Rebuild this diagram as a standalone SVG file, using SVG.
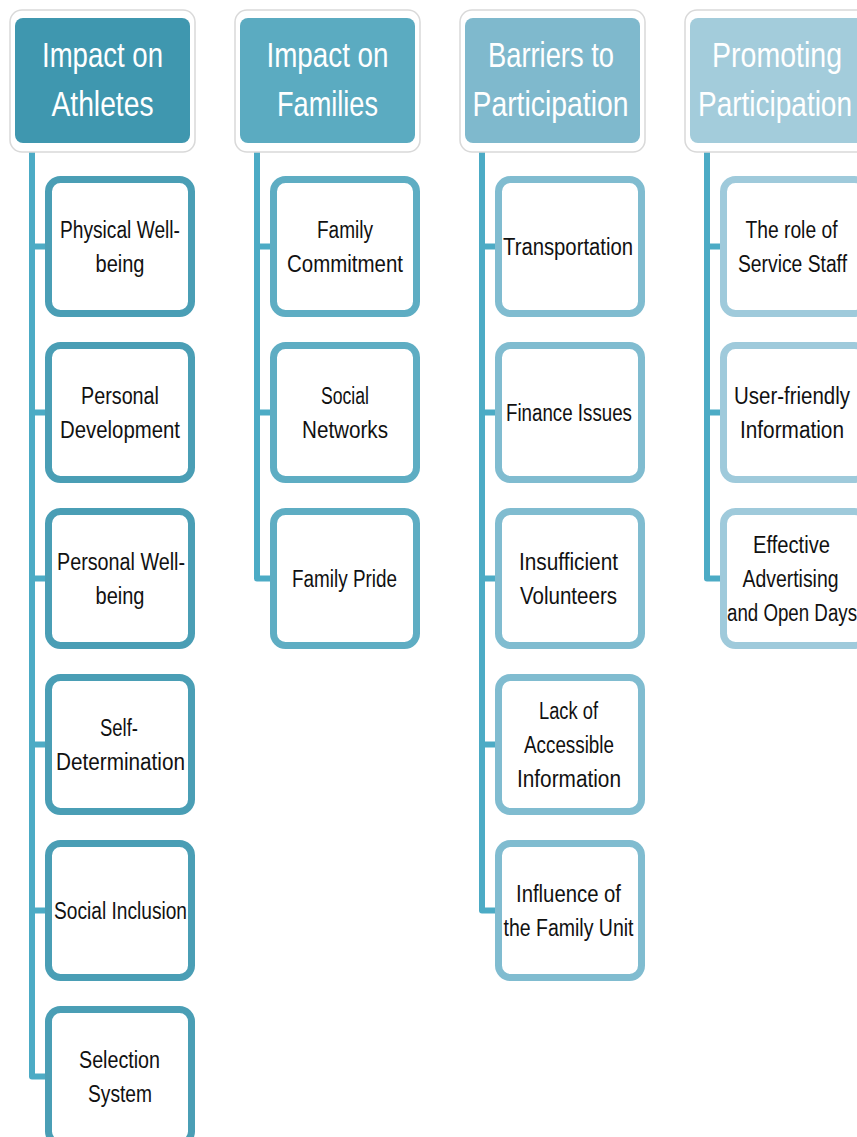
<svg xmlns="http://www.w3.org/2000/svg" width="857" height="1137" viewBox="0 0 857 1137">
<style>
.hout{fill:#ffffff;stroke:#d9d9d9;stroke-width:1.5}
.h1{fill:#3f97af}.h2{fill:#5babc1}.h3{fill:#7fb9cd}.h4{fill:#a3ccdb}
.ht{font-family:"Liberation Sans",Arial,sans-serif;font-size:35px;fill:#ffffff;text-anchor:middle}
.b{fill:#ffffff;stroke-width:7}
.b1{stroke:#4a9eb5}.b2{stroke:#5eadc3}.b3{stroke:#80bcd0}.b4{stroke:#9fcadb}
.ct{font-family:"Liberation Sans",Arial,sans-serif;font-size:23px;fill:#111111;text-anchor:middle}
.conn{fill:none;stroke:#4cabc5;stroke-width:6;stroke-linejoin:round}
</style>
<g id="connectors">
<path class="conn" d="M32 147 V1076.5 H48"/>
<path class="conn" d="M32 246.5 H48 M32 412.5 H48 M32 578.5 H48 M32 744.5 H48 M32 910.5 H48"/>
<path class="conn" d="M257 147 V578.5 H273"/>
<path class="conn" d="M257 246.5 H273 M257 412.5 H273"/>
<path class="conn" d="M482 147 V910.5 H498"/>
<path class="conn" d="M482 246.5 H498 M482 412.5 H498 M482 578.5 H498 M482 744.5 H498"/>
<path class="conn" d="M707 147 V578.5 H723"/>
<path class="conn" d="M707 246.5 H723 M707 412.5 H723"/>
</g>
<g id="h-athletes">
<rect class="hout" x="10" y="10" width="185" height="142" rx="12"/>
<rect class="h1" x="15" y="18" width="175" height="125" rx="8"/>
<text class="ht" x="102.5" y="67" textLength="121" lengthAdjust="spacingAndGlyphs">Impact on</text>
<text class="ht" x="102.5" y="116" textLength="102" lengthAdjust="spacingAndGlyphs">Athletes</text>
</g>
<g id="h-families">
<rect class="hout" x="235" y="10" width="185" height="142" rx="12"/>
<rect class="h2" x="240" y="18" width="175" height="125" rx="8"/>
<text class="ht" x="327.5" y="67" textLength="122" lengthAdjust="spacingAndGlyphs">Impact on</text>
<text class="ht" x="327.5" y="116" textLength="101" lengthAdjust="spacingAndGlyphs">Families</text>
</g>
<g id="h-barriers">
<rect class="hout" x="460" y="10" width="185" height="142" rx="12"/>
<rect class="h3" x="465" y="18" width="175" height="125" rx="8"/>
<text class="ht" x="551" y="67" textLength="126" lengthAdjust="spacingAndGlyphs">Barriers to</text>
<text class="ht" x="550.5" y="116" textLength="156" lengthAdjust="spacingAndGlyphs">Participation</text>
</g>
<g id="h-promoting">
<rect class="hout" x="685" y="10" width="185" height="142" rx="12"/>
<rect class="h4" x="690" y="18" width="175" height="125" rx="8"/>
<text class="ht" x="777" y="67" textLength="130" lengthAdjust="spacingAndGlyphs">Promoting</text>
<text class="ht" x="775" y="116" textLength="154" lengthAdjust="spacingAndGlyphs">Participation</text>
</g>
<g id="n-physical">
<rect class="b b1" x="48.5" y="179.5" width="143" height="134" rx="12"/>
<text class="ct" x="120" y="237.5" textLength="120" lengthAdjust="spacingAndGlyphs">Physical Well-</text>
<text class="ct" x="120" y="271.5" textLength="49" lengthAdjust="spacingAndGlyphs">being</text>
</g>
<g id="n-personal-dev">
<rect class="b b1" x="48.5" y="345.5" width="143" height="134" rx="12"/>
<text class="ct" x="120" y="403.5" textLength="78" lengthAdjust="spacingAndGlyphs">Personal</text>
<text class="ct" x="120" y="437.5" textLength="120" lengthAdjust="spacingAndGlyphs">Development</text>
</g>
<g id="n-personal-wb">
<rect class="b b1" x="48.5" y="511.5" width="143" height="134" rx="12"/>
<text class="ct" x="121" y="569.5" textLength="128" lengthAdjust="spacingAndGlyphs">Personal Well-</text>
<text class="ct" x="120" y="603.5" textLength="49" lengthAdjust="spacingAndGlyphs">being</text>
</g>
<g id="n-selfdet">
<rect class="b b1" x="48.5" y="677.5" width="143" height="134" rx="12"/>
<text class="ct" x="119" y="735.5" textLength="38" lengthAdjust="spacingAndGlyphs">Self-</text>
<text class="ct" x="120.5" y="769.5" textLength="129" lengthAdjust="spacingAndGlyphs">Determination</text>
</g>
<g id="n-social-inc">
<rect class="b b1" x="48.5" y="843.5" width="143" height="134" rx="12"/>
<text class="ct" x="120.5" y="918.5" textLength="133" lengthAdjust="spacingAndGlyphs">Social Inclusion</text>
</g>
<g id="n-selection">
<rect class="b b1" x="48.5" y="1009.5" width="143" height="134" rx="12"/>
<text class="ct" x="119.5" y="1067.5" textLength="81" lengthAdjust="spacingAndGlyphs">Selection</text>
<text class="ct" x="120" y="1101.5" textLength="64" lengthAdjust="spacingAndGlyphs">System</text>
</g>
<g id="n-family-commit">
<rect class="b b2" x="273.5" y="179.5" width="143" height="134" rx="12"/>
<text class="ct" x="345" y="237.5" textLength="56" lengthAdjust="spacingAndGlyphs">Family</text>
<text class="ct" x="345" y="271.5" textLength="116" lengthAdjust="spacingAndGlyphs">Commitment</text>
</g>
<g id="n-social-net">
<rect class="b b2" x="273.5" y="345.5" width="143" height="134" rx="12"/>
<text class="ct" x="345" y="403.5" textLength="48" lengthAdjust="spacingAndGlyphs">Social</text>
<text class="ct" x="345" y="437.5" textLength="86" lengthAdjust="spacingAndGlyphs">Networks</text>
</g>
<g id="n-family-pride">
<rect class="b b2" x="273.5" y="511.5" width="143" height="134" rx="12"/>
<text class="ct" x="344.5" y="586.5" textLength="105" lengthAdjust="spacingAndGlyphs">Family Pride</text>
</g>
<g id="n-transport">
<rect class="b b3" x="498.5" y="179.5" width="143" height="134" rx="12"/>
<text class="ct" x="568" y="254.5" textLength="130" lengthAdjust="spacingAndGlyphs">Transportation</text>
</g>
<g id="n-finance">
<rect class="b b3" x="498.5" y="345.5" width="143" height="134" rx="12"/>
<text class="ct" x="569" y="420.5" textLength="126" lengthAdjust="spacingAndGlyphs">Finance Issues</text>
</g>
<g id="n-volunteers">
<rect class="b b3" x="498.5" y="511.5" width="143" height="134" rx="12"/>
<text class="ct" x="568.5" y="569.5" textLength="99" lengthAdjust="spacingAndGlyphs">Insufficient</text>
<text class="ct" x="568.5" y="603.5" textLength="97" lengthAdjust="spacingAndGlyphs">Volunteers</text>
</g>
<g id="n-lack-info">
<rect class="b b3" x="498.5" y="677.5" width="143" height="134" rx="12"/>
<text class="ct" x="568.5" y="718.5" textLength="59" lengthAdjust="spacingAndGlyphs">Lack of</text>
<text class="ct" x="569" y="752.5" textLength="90" lengthAdjust="spacingAndGlyphs">Accessible</text>
<text class="ct" x="569" y="786.5" textLength="104" lengthAdjust="spacingAndGlyphs">Information</text>
</g>
<g id="n-family-unit">
<rect class="b b3" x="498.5" y="843.5" width="143" height="134" rx="12"/>
<text class="ct" x="568.5" y="901.5" textLength="105" lengthAdjust="spacingAndGlyphs">Influence of</text>
<text class="ct" x="568.5" y="935.5" textLength="130" lengthAdjust="spacingAndGlyphs">the Family Unit</text>
</g>
<g id="n-service-staff">
<rect class="b b4" x="723.5" y="179.5" width="143" height="134" rx="12"/>
<text class="ct" x="791.5" y="237.5" textLength="92" lengthAdjust="spacingAndGlyphs">The role of</text>
<text class="ct" x="792.5" y="271.5" textLength="109" lengthAdjust="spacingAndGlyphs">Service Staff</text>
</g>
<g id="n-user-info">
<rect class="b b4" x="723.5" y="345.5" width="143" height="134" rx="12"/>
<text class="ct" x="792" y="403.5" textLength="116" lengthAdjust="spacingAndGlyphs">User-friendly</text>
<text class="ct" x="792" y="437.5" textLength="104" lengthAdjust="spacingAndGlyphs">Information</text>
</g>
<g id="n-advertising">
<rect class="b b4" x="723.5" y="511.5" width="143" height="134" rx="12"/>
<text class="ct" x="791.5" y="552.5" textLength="77" lengthAdjust="spacingAndGlyphs">Effective</text>
<text class="ct" x="790.5" y="586.5" textLength="96" lengthAdjust="spacingAndGlyphs">Advertising</text>
<text class="ct" x="792" y="620.5" textLength="130" lengthAdjust="spacingAndGlyphs">and Open Days</text>
</g>
</svg>
